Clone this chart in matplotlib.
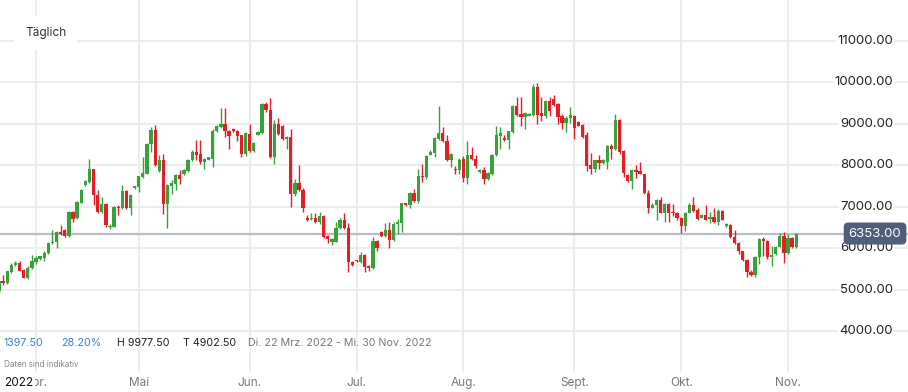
import numpy as np
import pandas as pd
import matplotlib
matplotlib.use("Agg")
import matplotlib.pyplot as plt

plt.rcParams['font.family'] = ['Inter', 'DejaVu Sans']

# daily OHLC, Di. 22 Mrz. 2022 onwards (six sessions a week)
opens = [4955, 5200, 5160, 5420, 5590, 5640, 5480, 5280, 5520, 5660,
         5740, 5760, 5880, 6120, 6140, 6400, 6440, 6300, 6880, 6720,
         7100, 7520, 7600, 7900, 7280, 6880, 7060, 6500, 6520, 7000,
         6960, 7380, 6960, 7450, 7480, 7720, 7800, 8520, 8860, 7860,
         8120, 7070, 7510, 7560, 7760, 7780, 7860, 8120, 8320, 8280,
         8090, 8140, 8150, 8830, 8920, 9000, 8840, 8880, 8840, 8720,
         8270, 8760, 8340, 8740, 8780, 9480, 9340, 8200, 8990, 8960,
         8640, 8690, 7310, 7570, 7400, 6740, 6700, 6730, 6630, 6770,
         6300, 6140, 6160, 6490, 6670, 6480, 5670, 5700, 5670, 5830,
         5570, 5510, 6170, 6390, 6290, 6450, 6200, 6580, 6600, 7080,
         7040, 7340, 7140, 7740, 7720, 8260, 8300, 8640, 8780, 8590,
         8120, 7920, 7880, 8160, 7700, 8260, 8160, 7840, 7880, 7660,
         7780, 8240, 8700, 8660, 8600, 8800, 9440, 9240, 9160, 9200,
         9220, 9880, 9260, 9200, 9560, 9600, 9480, 9180, 9020, 9140,
         9200, 9040, 8980, 8720, 8000, 7900, 8120, 8060, 8080, 8460,
         8400, 9100, 8340, 7760, 7620, 7880, 7860, 7780, 7340, 6980,
         7050, 7160, 6860, 7060, 6880, 6860, 6740, 6540, 6860, 7040,
         6920, 6740, 6810, 6700, 6760, 6620, 6900, 6530, 6570, 6280,
         6120, 5920, 5720, 5420, 5350, 5780, 6220, 6170, 5790, 5860,
         6040, 6300, 5890, 6240, 6020]
highs = [5220, 5360, 5460, 5640, 5700, 5680, 5500, 5560, 5840, 5800,
         5810, 5920, 6160, 6440, 6420, 6560, 6460, 6900, 6900, 7140,
         7420, 7640, 8160, 7920, 7400, 7240, 7080, 6580, 7020, 7050,
         7520, 7400, 7300, 7500, 7750, 8200, 8540, 8920, 8980, 8240,
         8280, 7560, 7640, 7780, 7880, 7900, 8160, 8370, 8600, 8600,
         8170, 8210, 8880, 8980, 9380, 9390, 8860, 8900, 8860, 8740,
         8800, 9000, 8560, 8820, 9500, 9540, 9620, 9100, 9140, 8980,
         8710, 8880, 7660, 8000, 7460, 6800, 6860, 6850, 6880, 6790,
         6320, 6240, 6620, 6740, 6850, 6600, 5690, 5720, 5900, 5850,
         5590, 6260, 6190, 6420, 6610, 6630, 6620, 6700, 7100, 7100,
         7360, 7440, 7900, 8040, 8240, 8360, 8680, 9420, 8920, 8720,
         8300, 7980, 8180, 8220, 8580, 8440, 8240, 7900, 7960, 7840,
         8280, 8960, 8920, 8720, 8840, 9460, 9650, 9640, 9280, 9260,
         9960, 9977.5, 9640, 9580, 9660, 9700, 9500, 9240, 9200, 9400,
         9220, 9080, 9000, 8800, 8300, 8140, 8240, 8160, 8480, 8520,
         9240, 9120, 8360, 7780, 7920, 8000, 8080, 7800, 7400, 7080,
         7180, 7240, 7080, 7080, 7060, 6880, 6760, 6880, 7100, 7240,
         6980, 6830, 7040, 6880, 6960, 6940, 6920, 6600, 6590, 6440,
         6140, 5940, 5740, 5480, 5800, 6240, 6260, 6190, 6050, 6060,
         6360, 6380, 6340, 6260, 6360]
lows = [4902.5, 5120, 5130, 5400, 5560, 5440, 5270, 5260, 5500, 5620,
        5720, 5700, 5860, 6100, 6000, 6320, 6280, 6280, 6640, 6700,
        7080, 7500, 7580, 7040, 6840, 6860, 6500, 6460, 6500, 6800,
        6940, 6940, 6800, 7420, 7360, 7700, 7790, 8320, 7990, 7840,
        6820, 6480, 7300, 7400, 7540, 7760, 7840, 8100, 8140, 8020,
        7920, 8120, 7960, 8810, 8900, 8690, 8400, 8810, 8580, 8200,
        8220, 8320, 8320, 8720, 8760, 9280, 8180, 8040, 8740, 8620,
        8400, 7000, 7250, 7380, 6880, 6660, 6680, 6610, 6590, 6240,
        6130, 6080, 6140, 6470, 6460, 5430, 5580, 5660, 5640, 5420,
        5440, 5490, 5940, 6270, 6270, 6000, 6180, 6350, 6380, 7020,
        6960, 7120, 7100, 7600, 7680, 8240, 8200, 8620, 8560, 8100,
        7960, 7800, 7790, 7600, 7560, 8140, 7940, 7820, 7560, 7640,
        7760, 8220, 8400, 8580, 8400, 8780, 9200, 8950, 8880, 9180,
        9200, 8990, 9080, 9140, 9200, 9440, 9000, 8880, 8800, 9020,
        8640, 8940, 8660, 7860, 7800, 7840, 7900, 8040, 7900, 8160,
        8380, 8280, 7720, 7600, 7440, 7700, 7780, 7300, 6860, 6960,
        6680, 6840, 6620, 6620, 6780, 6680, 6370, 6420, 6840, 6880,
        6680, 6720, 6670, 6610, 6600, 6570, 6670, 6510, 6240, 6100,
        5860, 5700, 5300, 5340, 5300, 5620, 5800, 5740, 5560, 5840,
        6020, 5650, 5870, 6000, 6000]
closes = [5200, 5170, 5440, 5600, 5640, 5460, 5280, 5520, 5680, 5760,
          5800, 5880, 6120, 6160, 6400, 6340, 6300, 6880, 6700, 7120,
          7400, 7620, 7900, 7280, 6880, 7060, 6560, 6540, 7000, 6980,
          7380, 6960, 7280, 7490, 7730, 7810, 8520, 8860, 8000, 8120,
          7070, 7530, 7570, 7760, 7680, 7880, 8130, 8320, 8250, 8090,
          8150, 8190, 8840, 8940, 9000, 8820, 8700, 8830, 8700, 8280,
          8780, 8340, 8540, 8800, 9480, 9340, 8200, 8990, 8760, 8640,
          8690, 7310, 7570, 7400, 6980, 6690, 6740, 6630, 6770, 6270,
          6220, 6220, 6490, 6670, 6480, 5670, 5600, 5680, 5830, 5550,
          5510, 6170, 6000, 6290, 6450, 6200, 6590, 6630, 7080, 7040,
          7340, 7140, 7740, 7720, 8220, 8320, 8660, 8780, 8590, 8120,
          8280, 7890, 8140, 7700, 8260, 8160, 7980, 7880, 7660, 7820,
          8260, 8720, 8780, 8600, 8820, 9440, 9220, 9160, 9260, 9240,
          9880, 9220, 9200, 9560, 9300, 9460, 9160, 9020, 9140, 9220,
          8900, 8960, 8680, 7980, 7900, 8120, 8060, 8120, 8460, 8400,
          9100, 8320, 7820, 7620, 7880, 7830, 7800, 7320, 6980, 7040,
          7160, 6860, 7060, 6860, 6840, 6720, 6540, 6860, 7040, 6900,
          6700, 6810, 6690, 6760, 6620, 6900, 6690, 6580, 6260, 6120,
          5920, 5720, 5420, 5350, 5780, 6220, 6170, 5780, 5830, 6040,
          6300, 5890, 6240, 6020, 6353]

last_price = 6353.0
change_abs = "1397.50"
change_pct = "28.20%"
period_high = "H 9977.50"
period_low = "T 4902.50"
period_text = "Di. 22 Mrz. 2022 - Mi. 30 Nov. 2022"
month_names = ["Apr.", "Mai", "Jun.", "Jul.", "Aug.", "Sept.", "Okt.", "Nov."]
month_starts = ["2022-04-01", "2022-05-01", "2022-06-01", "2022-07-01",
                "2022-08-01", "2022-09-01", "2022-10-01", "2022-11-01"]
y_ticks = [4000, 5000, 6000, 7000, 8000, 9000, 10000, 11000]

all_days = pd.date_range("2022-03-22", "2022-12-31", freq="D")
sessions = all_days[all_days.dayofweek != 5][:len(closes)]

o = np.array(opens, dtype=float)
h = np.array(highs, dtype=float)
l = np.array(lows, dtype=float)
c = np.array(closes, dtype=float)
idx = np.arange(len(c))

GREEN = "#37a13a"
RED = "#e31e24"
GRID = "#ececec"
up = c >= o
col = np.where(up, GREEN, RED)

fig = plt.figure(figsize=(9.08, 3.92), dpi=100)
ax = fig.add_axes([0, 0, 1, 1])
ax.set_xlim(0.24, 221.2)
ax.set_ylim(2528, 11990)
ax.axis("off")

# grid
for v in y_ticks:
    ax.axhline(v, color=GRID, lw=1.3, zorder=0)
month_idx = [int(np.searchsorted(sessions, pd.Timestamp(m))) for m in month_starts]
ax.vlines(month_idx, 3010, 11990, color=GRID, lw=1.3, zorder=0)

# candles
ax.vlines(idx, l, h, color=col, lw=1.0, zorder=2)
body = np.maximum(np.abs(c - o), 25)
ax.bar(idx, body, bottom=np.minimum(o, c), width=0.8, color=col, lw=0, zorder=3)

# last price line + label
ax.axhline(last_price, color="#b9bccb", lw=1.6, zorder=1)
ax.text(0.9637, last_price, f"{last_price:.2f}", transform=ax.get_yaxis_transform(),
        ha="center", va="center", fontsize=9.5, color="white", zorder=6,
        bbox=dict(boxstyle="round,pad=0.38,rounding_size=0.35", fc="#4e5e7b", ec="none"))

# y labels
for v in y_ticks:
    ax.text(0.9835, v, f"{v:.2f}", transform=ax.get_yaxis_transform(), ha="right",
            va="center", fontsize=9.5, color="#222222", zorder=5,
            bbox=dict(boxstyle="square,pad=0.1", fc="white", ec="none"))

# header
fig.text(0.0275, 0.916, "Täglich", fontsize=8.5, color="#333333", va="center",
         bbox=dict(boxstyle="square,pad=0.9", fc="white", ec="none"))

# bottom info row
row_y = 0.125
fig.text(0.004, row_y, change_abs, fontsize=7.7, color="#3a7fd0", va="center")
fig.text(0.067, row_y, change_pct, fontsize=7.7, color="#3a7fd0", va="center")
fig.text(0.129, row_y, period_high, fontsize=7.7, color="#222222", va="center")
fig.text(0.2015, row_y, period_low, fontsize=7.7, color="#222222", va="center")
fig.text(0.273, row_y, period_text, fontsize=7.7, color="#777777", va="center")
fig.text(0.004, 0.0714, "Daten sind indikativ", fontsize=5.8, color="#888888", va="center")

# month labels
for m, name in zip(month_idx, month_names):
    ax.text(m, 0.023, name, transform=ax.get_xaxis_transform(), ha="center",
            va="center", fontsize=8.5, color="#777777")
fig.text(0.004, 0.023, "2022", fontsize=8.5, color="#111111", va="center",
         bbox=dict(boxstyle="square,pad=0.15", fc="white", ec="none"), zorder=10)

fig.savefig("out.png", dpi=100)
